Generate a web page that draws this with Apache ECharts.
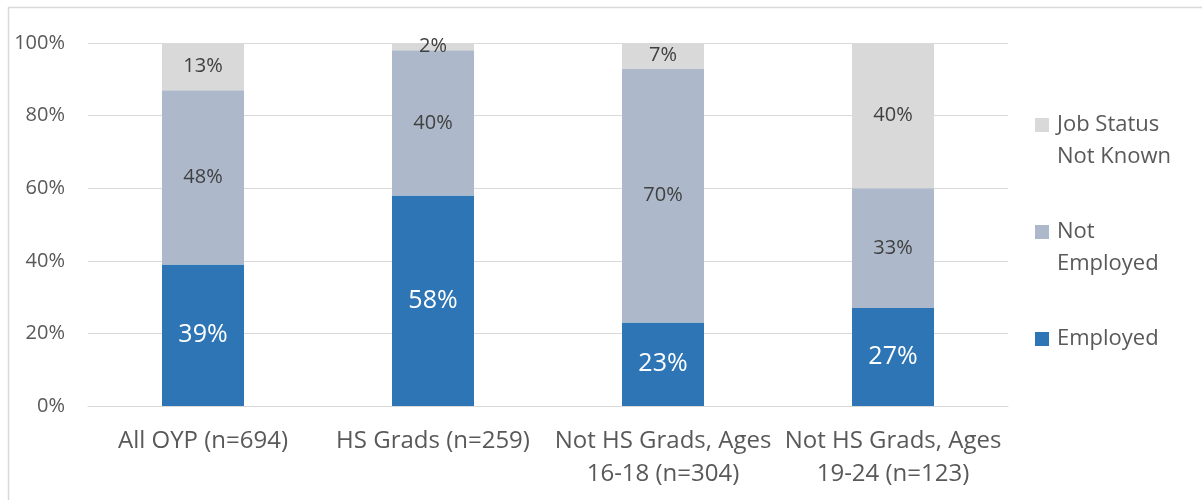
<!DOCTYPE html>
<html>
<head>
<meta charset="utf-8">
<script src="https://cdn.jsdelivr.net/npm/echarts@6/dist/echarts.min.js"></script>
<style>
html,body{margin:0;padding:0;background:#fff;}
#c{width:1202px;height:500px;}
</style>
</head>
<body>
<div id="c"></div>
<script>
const categories = ['All OYP (n=694)', 'HS Grads (n=259)', 'Not HS Grads, Ages\n16-18 (n=304)', 'Not HS Grads, Ages\n19-24 (n=123)'];
const employed = [39, 58, 23, 27];
const notEmployed = [48, 40, 70, 33];
const notKnown = [13, 2, 7, 40];
const yTicks = [0, 20, 40, 60, 80, 100];

const FONT = '"Open Sans", sans-serif';
const chart = echarts.init(document.getElementById('c'), null, {renderer: 'canvas'});

const legendNames = {
  'Job Status Not Known': ' \nJob Status\nNot Known',
  'Not Employed': ' \nNot\nEmployed',
  'Employed': ' \nEmployed\n '
};

chart.setOption({
  animation: false,
  backgroundColor: '#fff',
  graphic: [{
    type: 'rect', left: 6, top: 5, silent: true,
    shape: {x: 0, y: 0, width: 1300, height: 600},
    style: {fill: 'none', stroke: '#d9d9d9', lineWidth: 1.5}
  }],
  grid: {left: 88, right: 194, top: 43, bottom: 94},
  legend: {
    orient: 'vertical',
    left: 1035, top: 77,
    padding: 0,
    itemWidth: 14, itemHeight: 14,
    itemGap: 11,
    icon: 'rect',
    data: ['Job Status Not Known', 'Not Employed', 'Employed'],
    formatter: n => legendNames[n],
    textStyle: {fontFamily: FONT, fontSize: 22, color: '#595959', lineHeight: 32, padding: [0, 0, 0, 3]}
  },
  xAxis: {
    type: 'category',
    data: categories,
    axisLine: {show: true, lineStyle: {color: '#d9d9d9', width: 1}},
    axisTick: {show: false},
    axisLabel: {fontFamily: FONT, fontSize: 24, color: '#595959', margin: 19, lineHeight: 33, interval: 0}
  },
  yAxis: {
    type: 'value',
    min: 0, max: 100, interval: 20,
    axisLine: {show: false},
    axisTick: {show: false},
    splitLine: {lineStyle: {color: '#d9d9d9', width: 1}},
    axisLabel: {fontFamily: FONT, fontSize: 20, color: '#595959', margin: 23,
      formatter: v => yTicks.includes(v) ? v + '%' : ''}
  },
  series: [
    {
      name: 'Employed', type: 'bar', stack: 'a', barWidth: 82,
      data: employed,
      itemStyle: {color: '#2e75b6'},
      label: {show: true, position: 'inside', formatter: '{c}%', fontFamily: FONT, fontSize: 25, color: '#ffffff'}
    },
    {
      name: 'Not Employed', type: 'bar', stack: 'a', barWidth: 82,
      data: notEmployed,
      itemStyle: {color: '#adb9ca'},
      label: {show: true, position: 'inside', formatter: '{c}%', fontFamily: FONT, fontSize: 20, color: '#404040'}
    },
    {
      name: 'Job Status Not Known', type: 'bar', stack: 'a', barWidth: 82,
      data: notKnown,
      itemStyle: {color: '#d9d9d9'},
      label: {show: true, position: 'inside', formatter: '{c}%', fontFamily: FONT, fontSize: 20, color: '#404040'}
    }
  ]
});
</script>
</body>
</html>
